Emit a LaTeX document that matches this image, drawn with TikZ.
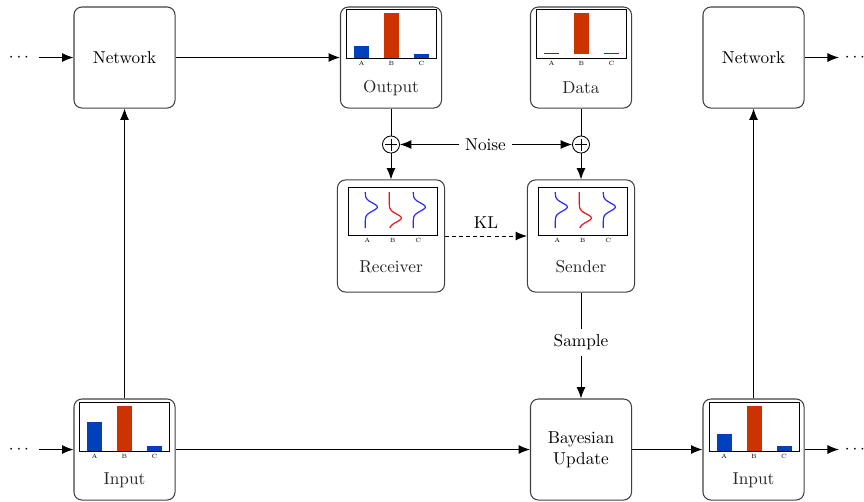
\documentclass[tikz,border=0pt]{standalone}
\usetikzlibrary{arrows.meta}

\definecolor{barblue}{RGB}{0,64,187}
\definecolor{barred}{RGB}{204,51,0}
\definecolor{pdfblue}{RGB}{40,40,250}
\definecolor{pdfred}{RGB}{235,20,20}

\tikzset{
  blockbox/.style={draw=black!75, line width=0.6pt, rounded corners=4.6pt,
    minimum width=58.6pt, minimum height=58.6pt, inner sep=0pt, align=center},
  distbox/.style={blockbox, minimum width=62.1pt, minimum height=65pt},
  conn/.style={line width=0.55pt, -{Latex[length=6.6pt,width=5.2pt]}},
  plain/.style={line width=0.55pt},
  sumnode/.style={circle, draw, line width=0.5pt, minimum size=9.9pt, inner sep=0pt},
  panel/.style={draw=black, line width=0.5pt},
  tick/.style={font=\fontsize{3.5}{4}\selectfont, inner sep=0pt},
  caption/.style={inner sep=0pt, text=black!85},
}

% bar chart: name, centre x, frame bottom y, baseline lift, heights of A, B, C
\newcommand\barchart[7]{%
  \fill[barblue] (#2-37.5,#3-#4) rectangle ++(15,-#5);
  \fill[barred]  (#2-7.5,#3-#4)  rectangle ++(15,-#6);
  \fill[barblue] (#2+22.5,#3-#4) rectangle ++(15,-#7);
  \draw[panel] (#2-45,#3-49) rectangle (#2+45,#3);
  \node[tick] (#1-a) at (#2-30,#3+5) {A};
  \node[tick] (#1-b) at (#2,#3+5) {B};
  \node[tick] (#1-c) at (#2+30,#3+5) {C};
}

% one vertical density curve: colour, tail x, mean y
\newcommand\densitycurve[3]{%
  \draw[#1, line width=0.7pt] plot[domain=192:228, samples=70, smooth]
    ({#2+12*exp(-((\x-#3)^2)/32)}, \x);
}

% distribution panel: name, left x of the frame
\newcommand\distpanel[2]{%
  \draw[panel] (#2,187) rectangle (#2+89,235);
  \densitycurve{pdfblue}{#2+17}{207}
  \densitycurve{pdfred}{#2+41}{218}
  \densitycurve{pdfblue}{#2+65}{207}
  \node[tick] (#1-a) at (#2+19,240.5) {A};
  \node[tick] (#1-b) at (#2+44.5,240.5) {B};
  \node[tick] (#1-c) at (#2+70,240.5) {C};
}

\begin{document}
\begin{tikzpicture}[x=0.58pt, y=-0.58pt]
  \useasboundingbox (0,0) rectangle (864,501);

  % boxes
  \node[blockbox] (netL) at (124.5,57.5) {Network};
  \node[blockbox] (netR) at (753.5,57.5) {Network};
  \node[blockbox] (outbox) at (391,57.5) {};
  \node[blockbox] (databox) at (581,57.5) {};
  \node[distbox] (recv) at (391,236) {};
  \node[distbox] (send) at (581,236) {};
  \node[blockbox] (inL) at (124.5,449.5) {};
  \node[blockbox] (bayes) at (581,449.5) {Bayesian\\Update};
  \node[blockbox] (inR) at (753.5,449.5) {};

  % captions inside the boxes
  \node[caption] (outlbl) at (391,88) {Output};
  \node[caption] (datalbl) at (581,88) {Data};
  \node[caption] (recvlbl) at (391,267) {Receiver};
  \node[caption] (sendlbl) at (581,267) {Sender};
  \node[caption] (inLlbl) at (124.5,480.5) {Input};
  \node[caption] (inRlbl) at (753.5,480.5) {Input};

  % bar charts
  \barchart{outchart}{391.5}{58}{0}{12}{45}{4}
  \barchart{datachart}{581.5}{58}{4.5}{1}{41}{1}
  \barchart{inLchart}{124.5}{451}{0}{29}{45}{5}
  \barchart{inRchart}{754}{451}{0}{17}{45}{5}

  % distribution panels
  \distpanel{recvpanel}{348.3}
  \distpanel{sendpanel}{538.3}

  % noise injection
  \node[sumnode] (plusA) at (391,144.5) {};
  \node[sumnode] (plusB) at (581,144.5) {};
  \draw[line width=0.45pt] (plusA.center) ++(-6,0) -- ++(12,0) (plusA.center) ++(0,-6) -- ++(0,12);
  \draw[line width=0.45pt] (plusB.center) ++(-6,0) -- ++(12,0) (plusB.center) ++(0,-6) -- ++(0,12);
  \node (noise) at (485.5,144.5) {Noise};

  % dots
  \node (dotsTL) at (19,57.5) {$\cdots$};
  \node (dotsTR) at (855,57.5) {$\cdots$};
  \node (dotsBL) at (19,449.5) {$\cdots$};
  \node (dotsBR) at (855,449.5) {$\cdots$};

  % connectors
  \draw[conn, shorten <=2.5pt] (dotsTL) -- (netL);
  \draw[conn] (netL) -- (outbox);
  \draw[conn] (netR) -- (dotsTR);
  \draw[plain] (outbox) -- (plusA);
  \draw[plain] (databox) -- (plusB);
  \draw[conn] (plusA) -- (recv);
  \draw[conn] (plusB) -- (send);
  \draw[conn] (noise) -- (plusA);
  \draw[conn] (noise) -- (plusB);
  \draw[conn, dash pattern=on 2.3pt off 1.8pt] (recv) -- node[above=1pt] (kl) {KL} (send);
  \draw[conn] (send) -- node[fill=white, pos=0.47] (sample) {Sample} (bayes);
  \draw[conn, shorten <=2.5pt] (dotsBL) -- (inL);
  \draw[conn] (inL) -- (bayes);
  \draw[conn] (bayes) -- (inR);
  \draw[conn] (inR) -- (dotsBR);
  \draw[conn] (inL) -- (netL);
  \draw[conn] (inR) -- (netR);
\end{tikzpicture}
\end{document}
